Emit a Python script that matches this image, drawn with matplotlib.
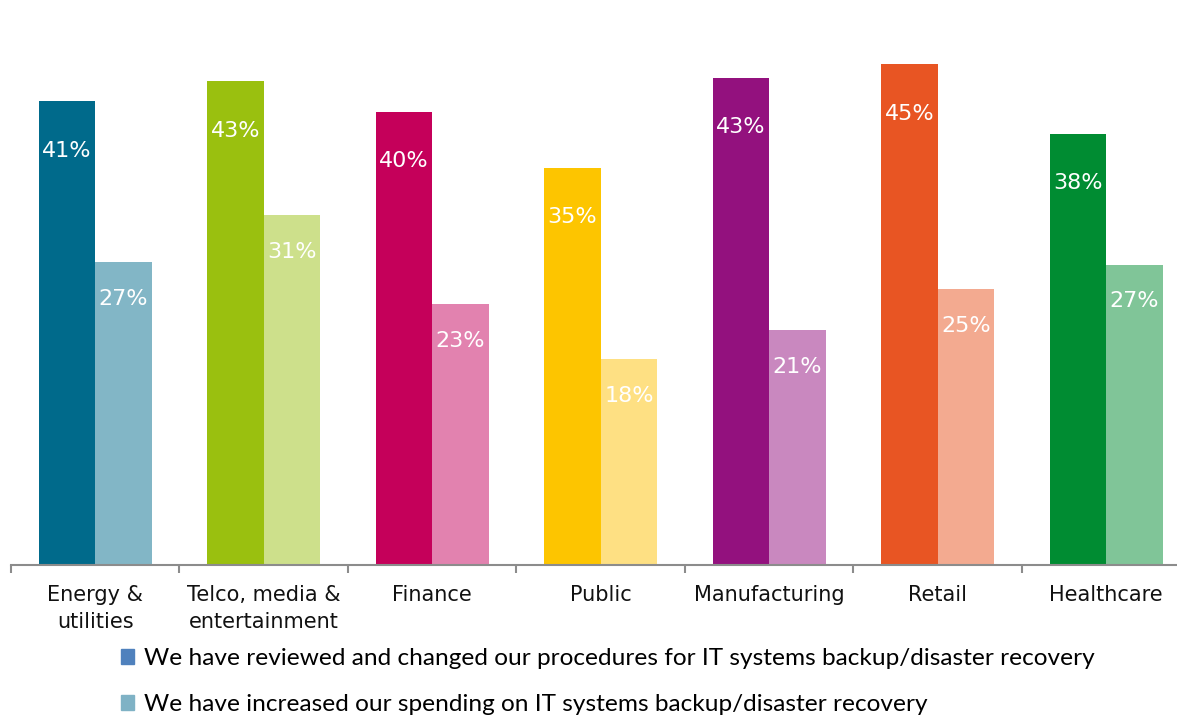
import numpy as np
import matplotlib.pyplot as plt
from matplotlib.patches import Patch

categories = ["Energy &\nutilities", "Telco, media &\nentertainment", "Finance",
              "Public", "Manufacturing", "Retail", "Healthcare"]
reviewed = [41.2, 43.0, 40.3, 35.3, 43.3, 44.5, 38.3]
increased = [26.9, 31.1, 23.2, 18.3, 20.9, 24.5, 26.7]
reviewed_labels = ["41%", "43%", "40%", "35%", "43%", "45%", "38%"]
increased_labels = ["27%", "31%", "23%", "18%", "21%", "25%", "27%"]
legend_labels = ["We have reviewed and changed our procedures for IT systems backup/disaster recovery",
                 "We have increased our spending on IT systems backup/disaster recovery"]

dark_colors = ["#006A8B", "#9AC00F", "#C5005A", "#FDC500", "#93117E", "#E85523", "#008C32"]
light_colors = ["#82B6C6", "#CDE08B", "#E282AF", "#FEE083", "#C988BF", "#F3AA90", "#80C598"]

W, H = 1177, 718
fig = plt.figure(figsize=(W / 100, H / 100), dpi=100)
# axes runs off the right edge, like the original
ax = fig.add_axes([11 / W, (H - 565) / H, 7 * 168.5 / W, 562.5 / H])

x = np.arange(len(categories))
bw = 0.336
b1 = ax.bar(x - bw / 2, reviewed, bw, color=dark_colors)
b2 = ax.bar(x + bw / 2, increased, bw, color=light_colors)

for rect, lab in zip(b1, reviewed_labels):
    ax.annotate(lab, (rect.get_x() + rect.get_width() / 2, rect.get_height()),
                xytext=(0, -35.5), textcoords="offset points", ha="center", va="center",
                color="white", fontsize=16)
for rect, lab in zip(b2, increased_labels):
    ax.annotate(lab, (rect.get_x() + rect.get_width() / 2, rect.get_height()),
                xytext=(0, -26.5), textcoords="offset points", ha="center", va="center",
                color="white", fontsize=16)

ax.set_xlim(-0.5, len(categories) - 0.5)
ax.set_ylim(0, 50)
ax.set_yticks([])
for s in ["top", "right", "left"]:
    ax.spines[s].set_visible(False)
ax.spines["bottom"].set_color("#8C8C8C")
ax.spines["bottom"].set_linewidth(1.5)

ax.set_xticks(np.arange(-0.5, len(categories), 1.0), minor=False)
ax.set_xticklabels([])
ax.tick_params(axis="x", which="major", length=6, width=1.5, color="#8C8C8C", direction="out")
ax.set_xticks(x, minor=True)
ax.set_xticklabels(categories, minor=True, fontsize=15, color="#111111", linespacing=1.45)
ax.tick_params(axis="x", which="minor", length=0, pad=14.5)
for t in ax.get_xticklabels(minor=True):
    t.set_verticalalignment("top")

handles = [Patch(color="#4F81BD"), Patch(color="#7FB2C5")]
fig.legend(handles, legend_labels, loc="upper left", bbox_to_anchor=(99 / W, 1 - 626 / H),
           frameon=False, handlelength=0.55, handleheight=0.55, handletextpad=0.4,
           labelspacing=1.03, prop={"family": "Lato", "size": 17.6})

fig.savefig("out.png", dpi=100)
